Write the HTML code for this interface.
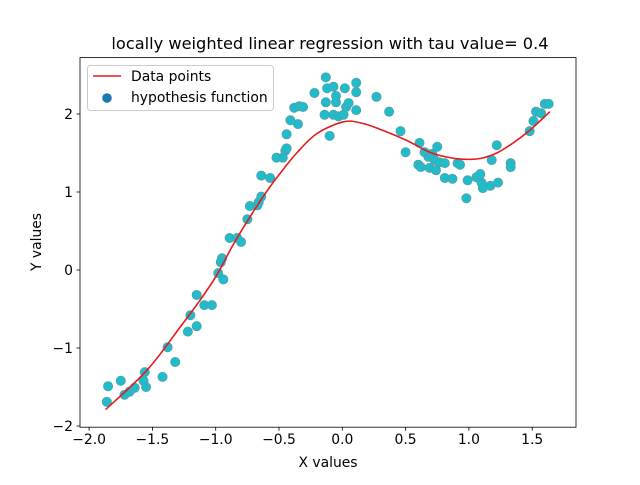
<!DOCTYPE html>
<html><head><meta charset="utf-8"><style>
body{margin:0;background:#fff}
svg text{font-family:"DejaVu Sans","Liberation Sans",sans-serif;fill:#000}
</style></head><body>
<svg id="chart" width="640" height="480" viewBox="0 0 640 480">
<rect width="640" height="480" fill="#fff"/>
<g id="plot"></g>
</svg>
<script>
const xTicks=[-2.0,-1.5,-1.0,-0.5,0.0,0.5,1.0,1.5];
const yTicks=[-2,-1,0,1,2];
const pointsX=[-1.86,-1.85,-1.75,-1.72,-1.68,-1.64,-1.56,-1.55,-1.57,-1.42,-1.38,-1.32,-1.22,-1.20,-1.15,-1.15,-1.09,-1.03,-0.98,-0.95,-0.96,-0.94,-0.89,-0.83,-0.80,-0.75,-0.73,-0.67,-0.66,-0.64,-0.64,-0.57,-0.52,-0.47,-0.45,-0.44,-0.44,-0.41,-0.38,-0.34,-0.31,-0.35,-0.22,-0.13,-0.12,-0.13,-0.14,-0.10,-0.07,-0.05,-0.07,-0.05,-0.03,0.01,0.02,0.03,0.05,0.11,0.11,0.11,0.27,0.37,0.46,0.50,0.61,0.60,0.62,0.65,0.68,0.69,0.71,0.73,0.74,0.75,0.77,0.81,0.81,0.87,0.91,0.93,0.98,0.99,1.06,1.09,1.10,1.11,1.17,1.18,1.22,1.23,1.33,1.33,1.48,1.51,1.53,1.57,1.60,1.63];
const pointsY=[-1.69,-1.49,-1.42,-1.60,-1.56,-1.51,-1.31,-1.50,-1.42,-1.37,-0.99,-1.18,-0.79,-0.58,-0.72,-0.32,-0.45,-0.45,-0.04,0.15,0.10,-0.12,0.41,0.41,0.36,0.65,0.82,0.83,0.87,0.94,1.21,1.18,1.44,1.44,1.53,1.56,1.74,1.92,2.08,2.10,2.09,1.87,2.27,2.47,2.33,2.15,1.99,1.72,2.35,2.15,1.99,2.23,1.97,1.99,2.33,2.09,2.14,2.40,2.28,2.05,2.22,2.03,1.78,1.51,1.63,1.35,1.32,1.51,1.45,1.31,1.49,1.41,1.28,1.58,1.38,1.37,1.18,1.17,1.37,1.35,0.92,1.15,1.19,1.23,1.12,1.05,1.08,1.41,1.60,1.12,1.37,1.32,1.78,1.91,2.03,2.01,2.13,2.13];
const curveX=[-1.87,-1.54,-1.28,-1.12,-0.99,-0.86,-0.71,-0.60,-0.50,-0.36,-0.20,0.01,0.16,0.32,0.51,0.69,0.82,0.95,1.09,1.22,1.35,1.48,1.64];
const curveY=[-1.79,-1.28,-0.73,-0.38,-0.06,0.33,0.73,1.00,1.22,1.50,1.75,1.90,1.88,1.79,1.66,1.51,1.45,1.42,1.43,1.50,1.63,1.79,2.03];

const L=80,R=576,T=57.6,B=427.2;
const sx=v=>342.3+v*126.6;
const sy=v=>270-v*78;
const NS='http://www.w3.org/2000/svg';
const g=document.getElementById('plot');
function mk(t,a,p){const e=document.createElementNS(NS,t);for(const k in a)e.setAttribute(k,a[k]);(p||g).appendChild(e);return e;}

const pts=mk('g',{});


for(let i=0;i<pointsX.length;i++){
  const c=mk('circle',{cx:sx(pointsX[i]),cy:sy(pointsY[i]),r:4.6,fill:'#1fbccb',stroke:'#5a9ea6','stroke-width':0.8},pts);
  
  
}
const P=curveX.map((v,i)=>[sx(v),sy(curveY[i])]);
let d='M'+P[0][0].toFixed(1)+','+P[0][1].toFixed(1);
for(let i=0;i<P.length-1;i++){
  const p0=P[Math.max(0,i-1)],p1=P[i],p2=P[i+1],p3=P[Math.min(P.length-1,i+2)];
  const c1=[p1[0]+(p2[0]-p0[0])/6,p1[1]+(p2[1]-p0[1])/6];
  const c2=[p2[0]-(p3[0]-p1[0])/6,p2[1]-(p3[1]-p1[1])/6];
  d+='C'+c1.map(n=>n.toFixed(1)).join(',')+' '+c2.map(n=>n.toFixed(1)).join(',')+' '+p2.map(n=>n.toFixed(1)).join(',');
}
const line=mk('path',{d:d,fill:'none',stroke:'#e41a1c','stroke-width':1.6,'stroke-linejoin':'round'});



const frame=mk('rect',{x:L,y:T,width:R-L,height:B-T,fill:'none',stroke:'#000','stroke-width':0.8});



xTicks.forEach(v=>{
  const x=sx(v);
  mk('line',{x1:x,x2:x,y1:B,y2:B+3.5,stroke:'#000','stroke-width':0.8});
  const t=mk('text',{x:x,y:B+17,'text-anchor':'middle','font-size':13.9});
  t.textContent=(v<0?'\u2212':'')+Math.abs(v).toFixed(1);
  
  
});
yTicks.forEach(v=>{
  const y=sy(v);
  mk('line',{x1:L,x2:L-3.5,y1:y,y2:y,stroke:'#000','stroke-width':0.8});
  const t=mk('text',{x:L-7,y:y+5,'text-anchor':'end','font-size':13.9});
  t.textContent=(v<0?'\u2212':'')+Math.abs(v);
  
  
});
</script>
<svg style="position:absolute;left:0;top:0" width="640" height="480">
<text x="330" y="49" text-anchor="middle" font-size="16.2">locally weighted linear regression with tau value= 0.4</text>
<text x="328" y="467" text-anchor="middle" font-size="13.9">X values</text>
<text transform="translate(41,242) rotate(-90)" text-anchor="middle" font-size="13.9">Y values</text>
<g>
<rect x="87.5" y="65.5" width="186" height="45" rx="3" fill="#fff" fill-opacity="0.8" stroke="#ccc"/>
<line x1="93" x2="121" y1="76" y2="76" stroke="#e41a1c" stroke-width="1.6"/>
<text x="131" y="81" font-size="13.9">Data points</text>
<circle cx="107" cy="98" r="4.8" fill="#1f77b4"/>
<text x="131" y="102" font-size="13.9">hypothesis function</text>
</g>
</svg>
</body></html>
